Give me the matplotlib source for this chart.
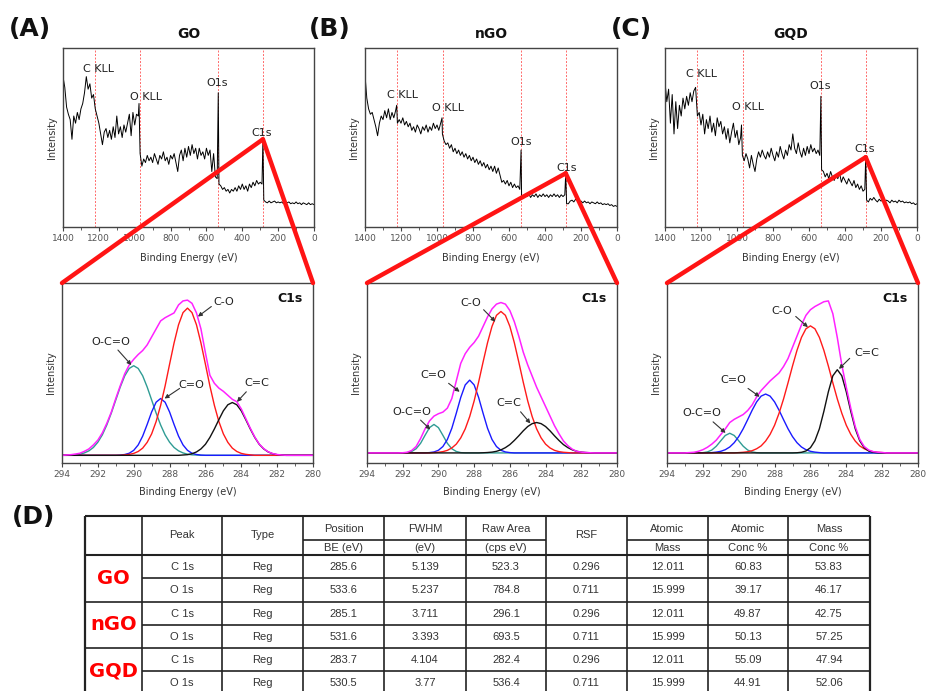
import numpy as np
import matplotlib
matplotlib.use('Agg')
import matplotlib.pyplot as plt
from matplotlib.patches import ConnectionPatch
from matplotlib.ticker import MultipleLocator

W, H = 930, 691

# ---- survey spectra, read every 10 eV from 1400 eV down to 0 eV ----
survey_E = np.arange(1400, -1, -10)

go_survey = [84, 78, 67, 63, 60, 49, 62, 58, 64, 60,
             66, 69, 75, 84, 77, 80, 72, 74, 66, 62,
             58, 52, 46, 53, 55, 50, 54, 49, 56, 50,
             62, 52, 56, 50, 57, 53, 58, 63, 51, 64,
             57, 63, 62, 41, 34, 38, 36, 40, 37, 39,
             36, 41, 38, 35, 40, 38, 42, 37, 39, 35,
             40, 38, 41, 36, 31, 40, 43, 37, 44, 39,
             45, 40, 46, 41, 44, 38, 44, 40, 42, 38,
             44, 40, 43, 31, 41, 28, 27, 24, 23, 21,
             22, 20, 21, 19, 21, 20, 22, 20, 23, 21,
             24, 21, 23, 20, 24, 22, 25, 23, 26, 24,
             25, 24, 15, 14, 13.5, 14.5, 13.5, 14, 14.5, 13.5,
             14, 13.5, 14, 13, 14, 13.5, 14, 13, 13.5, 13,
             14, 13, 13.5, 12.5, 13.5, 13, 12.5, 13.5, 12.5, 13,
             12.5]
ngo_survey = [85, 72, 66, 63, 64, 60, 56, 51, 58, 62,
              60, 65, 61, 66, 60, 64, 61, 65, 58, 60,
              58, 61, 57, 59, 56, 58, 54, 56, 53, 57,
              55, 52, 56, 54, 57, 53, 56, 54, 58, 55,
              57, 54, 58, 52, 48, 46, 47, 44, 46, 42,
              44, 41, 43, 40, 42, 39, 41, 38, 40, 37,
              39, 36, 38, 35, 37, 34, 36, 33, 35, 32,
              34, 31, 34, 30, 33, 29, 25, 26, 24, 26,
              23, 25, 22, 24, 22, 23, 21, 17, 16, 18,
              17, 18.5, 16.5, 18, 17, 18.5, 16.5, 18, 17, 18.5,
              17, 18, 16.5, 18, 17, 18.5, 17, 18, 16.5, 18,
              17, 18, 13, 13, 14.5, 15, 14, 15.5, 15, 14,
              14.5, 13.5, 14.5, 13.5, 14, 13, 14, 13.5, 13, 14,
              13, 13.5, 12.5, 13, 12.5, 13, 12, 12.5, 11.5, 12,
              11.5]
gqd_survey = [81, 70, 77, 58, 74, 52, 70, 55, 68, 62,
              72, 66, 73, 68, 75, 70, 76, 78, 62, 64,
              57, 63, 52, 60, 55, 62, 53, 58, 51, 61,
              56, 59, 52, 56, 49, 55, 47, 53, 58, 50,
              54, 46, 50, 40, 37, 41, 38, 33, 40, 35,
              31, 38, 42, 39, 43, 40, 38, 42, 39, 44,
              40, 37, 42, 39, 45, 41, 38, 43, 40, 46,
              43, 52, 44, 41, 47, 42, 39, 44, 40, 45,
              41, 46, 42, 44, 41, 43, 40, 32, 31, 28,
              30, 27, 31, 28, 26, 29, 27, 30, 25, 28,
              26, 24, 27, 25, 23, 26, 22, 24, 21, 23,
              20, 21, 15, 14, 16, 15, 16.5, 15, 14, 15.5,
              14.5, 15, 14, 15, 14.5, 13.5, 15, 14, 14.5, 13.5,
              15, 14, 14.5, 13.5, 14, 13.5, 14, 13, 13.5, 12.5,
              13]

# narrow peaks between the 10 eV samples (energy, intensity); C1s is last
go_spike_E, go_spike_I = [976, 534, 285], [69, 75, 49]
ngo_spike_E, ngo_spike_I = [1224, 972, 533, 285], [68, 61, 43, 30]
gqd_spike_E, gqd_spike_I = [975, 534, 285], [57, 73, 39]

survey_marks = [1223, 969, 533, 284]
survey_names = ['C KLL', 'O KLL', 'O1s', 'C1s']
sample_names = ['GO', 'nGO', 'GQD']

# ---- C1s high resolution, read every 0.25 eV from 294 to 280 eV ----
c1s_E = np.linspace(294, 280, 57)

go_env = [0, 0.2, 0.4, 0.8, 1.3, 2.5, 4.0, 6.5,
          9.5, 14, 20, 27, 35.5, 43.5, 51, 56.5,
          60, 63, 65.5, 69, 74, 79, 84, 86,
          87.5, 89, 94, 96.5, 97, 95, 89, 79,
          64, 50, 45, 42, 40, 37.5, 35, 33.5,
          29, 23, 17, 11.5, 7, 4.2, 2.2, 1.1,
          0.5, 0.2, 0, 0, 0, 0, 0, 0, 0]
go_oco = [0, 0, 0.2, 0.3, 0.7, 1.5, 2.8, 4.9,
          8.2, 12.8, 19.0, 26.4, 34.6, 42.7, 49.7, 54.3,
          56, 54.3, 49.7, 42.7, 34.6, 26.4, 19.0, 12.8,
          8.2, 4.9, 2.8, 1.5, 0.7, 0.3, 0.2, 0,
          0, 0, 0, 0, 0, 0, 0, 0,
          0, 0, 0, 0, 0, 0, 0, 0,
          0, 0, 0, 0, 0, 0, 0, 0, 0]
go_cdo = [0, 0, 0, 0, 0, 0, 0, 0,
          0, 0, 0, 0, 0, 0.15, 0.5, 1.3,
          3.1, 6.5, 12.0, 19.3, 27.1, 33.2, 35.5, 33.2,
          27.1, 19.3, 12.0, 6.5, 3.1, 1.3, 0.5, 0.15,
          0, 0, 0, 0, 0, 0, 0, 0,
          0, 0, 0, 0, 0, 0, 0, 0,
          0, 0, 0, 0, 0, 0, 0, 0, 0]
go_co = [0, 0, 0, 0, 0, 0, 0, 0,
         0, 0, 0, 0, 0, 0, 0.3, 0.6,
         1.2, 2.4, 4.5, 8.1, 13.4, 21.1, 31.2, 43.3,
         56.9, 70.2, 81.6, 89.2, 92, 89.2, 81.6, 70.2,
         56.9, 43.3, 31.2, 21.1, 13.4, 8.1, 4.5, 2.4,
         1.2, 0.6, 0.3, 0, 0, 0, 0, 0,
         0, 0, 0, 0, 0, 0, 0, 0, 0]
go_cc = [0, 0, 0, 0, 0, 0, 0, 0,
         0, 0, 0, 0, 0, 0, 0, 0,
         0, 0, 0, 0, 0, 0, 0, 0,
         0, 0, 0, 0.2, 0.4, 1.0, 2.1, 4.0,
         6.9, 11.2, 16.5, 22.3, 27.8, 31.6, 33, 31.6,
         27.8, 22.3, 16.5, 11.2, 6.9, 4.0, 2.1, 1.0,
         0.4, 0.2, 0, 0, 0, 0, 0, 0, 0]

ngo_env = [0, 0, 0, 0, 0, 0, 0, 0,
           0.1, 0.4, 1.5, 4, 9, 15, 20, 23,
           24.5, 25.5, 28, 34, 45, 56, 62, 66,
           69, 73, 79, 85, 90, 93, 94, 93,
           89, 82, 73, 63, 55, 48, 41, 35,
           29, 23, 17, 12, 7.5, 4.5, 2.3, 1.0,
           0.5, 0.25, 0.1, 0, 0, 0, 0, 0, 0]
ngo_oco = [0, 0, 0, 0, 0, 0, 0, 0,
           0, 0.2, 0.9, 2.6, 6.0, 11.0, 15.8, 17.8,
           15.8, 11.0, 6.0, 2.6, 0.9, 0.2, 0, 0,
           0, 0, 0, 0, 0, 0, 0, 0,
           0, 0, 0, 0, 0, 0, 0, 0,
           0, 0, 0, 0, 0, 0, 0, 0,
           0, 0, 0, 0, 0, 0, 0, 0, 0]
ngo_cdo = [0, 0, 0, 0, 0, 0, 0, 0,
           0, 0, 0, 0, 0, 0, 0.2, 0.6,
           1.65, 4.0, 8.4, 15.4, 24.8, 34.7, 42.5, 45.5,
           42.5, 34.7, 24.8, 15.4, 8.4, 4.0, 1.65, 0.6,
           0.2, 0, 0, 0, 0, 0, 0, 0,
           0, 0, 0, 0, 0, 0, 0, 0,
           0, 0, 0, 0, 0, 0, 0, 0, 0]
ngo_co = [0, 0, 0, 0, 0, 0, 0, 0,
          0, 0, 0, 0, 0, 0, 0, 0.2,
          0.4, 0.8, 1.6, 3.1, 5.5, 9.4, 15.0, 22.7,
          32.5, 44.2, 56.8, 68.9, 79.1, 86.0, 88.4, 86.0,
          79.1, 68.9, 56.8, 44.2, 32.5, 22.7, 15.0, 9.4,
          5.5, 3.1, 1.6, 0.8, 0.4, 0.2, 0, 0,
          0, 0, 0, 0, 0, 0, 0, 0, 0]
ngo_cc = [0, 0, 0, 0, 0, 0, 0, 0,
          0, 0, 0, 0, 0, 0, 0, 0,
          0, 0, 0, 0, 0, 0, 0, 0,
          0, 0, 0.1, 0.25, 0.5, 1.0, 1.9, 3.3,
          5.2, 7.8, 10.7, 13.8, 16.5, 18.3, 19, 18.3,
          16.5, 13.8, 10.7, 7.8, 5.2, 3.3, 1.9, 1.0,
          0.5, 0.25, 0.1, 0, 0, 0, 0, 0, 0]

gqd_env = [0, 0, 0, 0, 0, 0.2, 0.4, 1.0,
           2.0, 3.5, 5.5, 8, 11.5, 15, 19, 21,
           22.5, 24, 26.5, 30, 35, 39, 42, 45,
           47.5, 50, 54, 59, 66, 73, 80, 86,
           89.5, 91.5, 93, 94.5, 95, 87, 72, 55,
           41, 28, 16.5, 8.5, 4, 1.8, 0.8, 0.45,
           0.25, 0, 0, 0, 0, 0, 0, 0, 0]
gqd_oco = [0, 0, 0, 0, 0, 0, 0, 0,
           0.16, 0.6, 1.8, 4.2, 7.6, 10.9, 12.3, 10.9,
           7.6, 4.2, 1.8, 0.6, 0.16, 0, 0, 0,
           0, 0, 0, 0, 0, 0, 0, 0,
           0, 0, 0, 0, 0, 0, 0, 0,
           0, 0, 0, 0, 0, 0, 0, 0,
           0, 0, 0, 0, 0, 0, 0, 0, 0]
gqd_cdo = [0, 0, 0, 0, 0, 0, 0, 0,
           0, 0, 0.2, 0.5, 1.0, 2.0, 3.7, 6.4,
           10.2, 15.1, 20.8, 26.7, 31.9, 35.5, 36.8, 35.5,
           31.9, 26.7, 20.8, 15.1, 10.2, 6.4, 3.7, 2.0,
           1.0, 0.5, 0.2, 0, 0, 0, 0, 0,
           0, 0, 0, 0, 0, 0, 0, 0,
           0, 0, 0, 0, 0, 0, 0, 0, 0]
gqd_co = [0, 0, 0, 0, 0, 0, 0, 0,
          0, 0, 0, 0, 0, 0, 0, 0,
          0.2, 0.4, 0.75, 1.4, 2.6, 4.4, 7.4, 11.6,
          17.3, 24.8, 33.7, 43.8, 54.3, 64.1, 72.2, 77.6,
          79.4, 77.6, 72.2, 64.1, 54.3, 43.8, 33.7, 24.8,
          17.3, 11.6, 7.4, 4.4, 2.6, 1.4, 0.75, 0.4,
          0.2, 0, 0, 0, 0, 0, 0, 0, 0]
gqd_cc = [0, 0, 0, 0, 0, 0, 0, 0,
          0, 0, 0, 0, 0, 0, 0, 0,
          0, 0, 0, 0, 0, 0, 0, 0,
          0, 0, 0, 0, 0, 0.1, 0.4, 1.2,
          3.25, 7.6, 15.1, 26, 38.2, 48.2, 52, 48.2,
          38.2, 26, 15.1, 7.6, 3.25, 1.2, 0.4, 0.1,
          0, 0, 0, 0, 0, 0, 0, 0, 0]

# ---- table (D) ----
header_top = ['', 'Peak', 'Type', 'Position', 'FWHM', 'Raw Area', 'RSF',
              'Atomic', 'Atomic', 'Mass']
header_bot = ['', '', '', 'BE (eV)', '(eV)', '(cps eV)', '', 'Mass',
              'Conc %', 'Conc %']
peak_col = ['C 1s', 'O 1s'] * 3
type_col = ['Reg'] * 6
position = ['285.6', '533.6', '285.1', '531.6', '283.7', '530.5']
fwhm = ['5.139', '5.237', '3.711', '3.393', '4.104', '3.77']
raw_area = ['523.3', '784.8', '296.1', '693.5', '282.4', '536.4']
rsf = ['0.296', '0.711'] * 3
atomic_mass = ['12.011', '15.999'] * 3
atomic_conc = ['60.83', '39.17', '49.87', '50.13', '55.09', '44.91']
mass_conc = ['53.83', '46.17', '42.75', '57.25', '47.94', '52.06']

# ---- layout ----
fig = plt.figure(figsize=(W / 100, H / 100), dpi=100)


def box(x0, y0, x1, y1):
    return [x0 / W, 1 - y1 / H, (x1 - x0) / W, (y1 - y0) / H]


tax = fig.add_axes([0, 0, 1, 1])
tax.set_xlim(0, W)
tax.set_ylim(H, 0)
tax.axis('off')
tax.patch.set_alpha(0)

survey_boxes = [(63, 48, 314, 227), (365, 48, 617, 227), (665, 48, 917, 227)]
c1s_boxes = [(62, 283, 313, 463), (367, 283, 617, 463), (667, 283, 918, 463)]
c1s_ylims = [(-4.8, 107.7), (-6.3, 106.2), (-6.3, 106.2)]
label_pos = [[(1288, 88), (1028, 72.5), (600, 80.4), (350, 52.3)],
             [(1279, 73.8), (1029, 66.4), (593, 47.7), (337, 33.1)],
             [(1283, 85.6), (1029, 66.9), (599, 78.5), (346, 43.4)]]
panel_tags = [('(A)', 9), ('(B)', 309), ('(C)', 611)]

surveys = [go_survey, ngo_survey, gqd_survey]
spikes_E = [go_spike_E, ngo_spike_E, gqd_spike_E]
spikes_I = [go_spike_I, ngo_spike_I, gqd_spike_I]
c1s_sets = [(go_env, go_oco, go_cdo, go_co, go_cc),
            (ngo_env, ngo_oco, ngo_cdo, ngo_co, ngo_cc),
            (gqd_env, gqd_oco, gqd_cdo, gqd_co, gqd_cc)]
comp_names = ['O-C=O', 'C=O', 'C-O', 'C=C']
comp_colors = ['#2f9c94', '#1a1aff', '#ff1a1a', '#111111']
# (text x, text y, arrow tail x, tail y, head x, head y) per component
annots = [
    [(291.3, 71, 290.88, 65.8, 290.13, 56.4), (286.8, 43.9, 287.44, 41.8, 288.28, 35.5),
     (284.98, 96, 285.67, 93, 286.42, 86.7), (283.16, 45, 283.72, 39.7, 284.24, 33.4)],
    [(291.5, 25.7, 291.0, 20.5, 290.45, 14.6), (290.27, 48.7, 289.43, 43.5, 288.81, 38.2),
     (288.21, 93.6, 287.47, 89.5, 286.81, 82), (286.05, 30.9, 285.4, 25.7, 284.85, 18.4)],
    [(292.07, 24.7, 291.43, 19.4, 290.73, 12.5), (290.32, 45.6, 289.48, 40.3, 288.83, 35.1),
     (287.62, 88.4, 286.82, 85.3, 286.14, 78.6), (282.88, 62.3, 283.81, 59.1, 284.41, 52.5)],
]

spine_c = '#444444'
tick_c = '#555555'


def style(ax):
    for s in ax.spines.values():
        s.set_color(spine_c)
        s.set_linewidth(1.0)
    ax.set_yticks([])
    ax.tick_params(axis='x', which='major', direction='out', length=3, width=0.8,
                   color=spine_c, labelsize=6.5, labelcolor=tick_c, pad=2)
    ax.tick_params(axis='x', which='minor', direction='out', length=1.8, width=0.6,
                   color=spine_c)


survey_axes, c1s_axes = [], []
for k in range(3):
    ax = fig.add_axes(box(*survey_boxes[k]))
    E = np.concatenate([survey_E, spikes_E[k]])
    I = np.concatenate([surveys[k], spikes_I[k]])
    order = np.argsort(-E, kind='stable')
    for m in survey_marks:
        ax.axvline(m, color='#ff6a6a', lw=0.7, ls=(0, (2, 1.6)))
    ax.plot(E[order], I[order], color='black', lw=0.7)
    ax.set_xlim(1400, 0)
    ax.set_ylim(0, 100)
    ax.xaxis.set_major_locator(MultipleLocator(200))
    ax.xaxis.set_minor_locator(MultipleLocator(100))
    style(ax)
    ax.set_xlabel('Binding Energy (eV)', fontsize=7, color='#333333', labelpad=7)
    ax.set_ylabel('Intensity', fontsize=7, color='#333333', labelpad=4)
    for name, (lx, ly) in zip(survey_names, label_pos[k]):
        ax.text(lx, ly, name, fontsize=8, color='#222222', ha='left', va='center')
    cx = (survey_boxes[k][0] + survey_boxes[k][2]) / 2
    fig.text(cx / W, 1 - 34 / H, sample_names[k], fontsize=10, fontweight='bold',
             ha='center', va='center', color='#111111')
    tag, tx = panel_tags[k]
    fig.text(tx / W, 1 - 29 / H, tag, fontsize=18, fontweight='bold',
             ha='left', va='center', color='#111111')
    survey_axes.append(ax)

    cax = fig.add_axes(box(*c1s_boxes[k]))
    env, oco, cdo, co, cc = c1s_sets[k]
    for vals, col in zip([oco, cdo, co, cc], comp_colors):
        cax.plot(c1s_E, vals, color=col, lw=1.0)
    cax.plot(c1s_E, env, color='#ff22ff', lw=1.1)
    cax.set_xlim(294, 280)
    cax.set_ylim(*c1s_ylims[k])
    cax.xaxis.set_major_locator(MultipleLocator(2))
    cax.xaxis.set_minor_locator(MultipleLocator(1))
    style(cax)
    cax.set_xlabel('Binding Energy (eV)', fontsize=7, color='#333333', labelpad=6)
    cax.set_ylabel('Intensity', fontsize=7, color='#333333', labelpad=4)
    cax.text(0.96, 0.915, 'C1s', transform=cax.transAxes, fontsize=9,
             fontweight='bold', ha='right', va='center', color='#111111')
    for name, (txx, tyy, ax0, ay0, hx, hy) in zip(comp_names, annots[k]):
        cax.text(txx, tyy, name, fontsize=8, color='#222222', ha='center', va='center')
        cax.annotate('', xy=(hx, hy), xytext=(ax0, ay0),
                     arrowprops=dict(arrowstyle='-|>', color='#333333', lw=0.8,
                                     mutation_scale=6, shrinkA=0, shrinkB=0))
    c1s_axes.append(cax)

# red zoom lines from the C1s survey peak to the detail panel corners
for k in range(3):
    apex = (285, spikes_I[k][-1])
    for corner in [(0, 1), (1, 1)]:
        con = ConnectionPatch(xyA=apex, coordsA=survey_axes[k].transData,
                              xyB=corner, coordsB=c1s_axes[k].transAxes,
                              color='#ff1414', lw=3.2)
        con.set_zorder(20)
        fig.add_artist(con)

# ---- table (D) ----
fig.text(12 / W, 1 - 517 / H, '(D)', fontsize=18, fontweight='bold',
         ha='left', va='center', color='#111111')
col_x = [85, 142, 222, 303, 384, 466, 546, 627, 708, 788, 870]
row_y = [555, 578.3, 601.6, 624.7, 647.8, 671, 694]
top_y, mid_y = 516, 540
line_c = '#222222'
lw = 1.2
tax.hlines([top_y, row_y[0]], col_x[0], col_x[-1], color=line_c, lw=1.5)
tax.hlines(mid_y, col_x[3], col_x[6], color=line_c, lw=lw)
tax.hlines(mid_y, col_x[7], col_x[10], color=line_c, lw=lw)
for r in range(1, 7):
    x0 = col_x[0] if r % 2 == 0 else col_x[1]
    tax.hlines(row_y[r], x0, col_x[-1], color=line_c, lw=lw)
tax.vlines(col_x, top_y, row_y[-1], color=line_c, lw=lw)
tax.vlines([col_x[0], col_x[-1]], top_y, row_y[-1], color=line_c, lw=1.6)

tfont = dict(family='Liberation Sans', fontsize=8, color='#333333',
             ha='center', va='center')
for c in range(1, 10):
    cx = (col_x[c] + col_x[c + 1]) / 2
    if header_bot[c]:
        tax.text(cx, (top_y + mid_y) / 2 + 0.5, header_top[c], **tfont)
        tax.text(cx, (mid_y + row_y[0]) / 2 + 0.5, header_bot[c], **tfont)
    else:
        tax.text(cx, (top_y + row_y[0]) / 2, header_top[c], **tfont)

columns = [peak_col, type_col, position, fwhm, raw_area, rsf,
           atomic_mass, atomic_conc, mass_conc]
for r in range(6):
    cy = (row_y[r] + row_y[r + 1]) / 2 + 0.5
    for c, col in enumerate(columns, start=1):
        tax.text((col_x[c] + col_x[c + 1]) / 2, cy, col[r], **tfont)
for s, name in enumerate(sample_names):
    cy = row_y[2 * s + 1]
    tax.text((col_x[0] + col_x[1]) / 2, cy, name, fontsize=14, fontweight='bold',
             color='#ff0000', ha='center', va='center')

fig.savefig('out.png', dpi=100)
